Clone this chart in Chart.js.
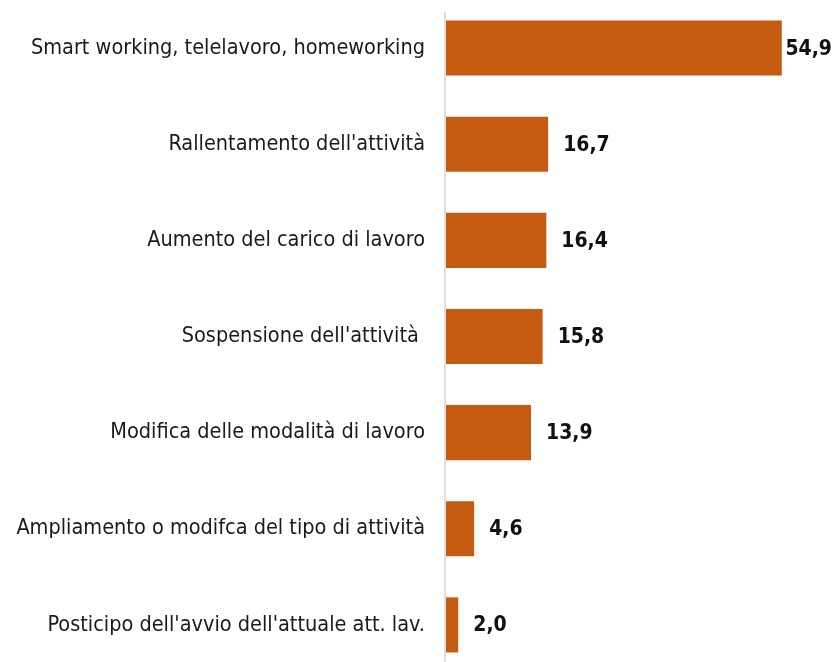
<!DOCTYPE html>
<html>
<head>
<meta charset="utf-8">
<script src="https://cdn.jsdelivr.net/npm/chart.js@4/dist/chart.umd.min.js"></script>
<style>
  html, body { margin: 0; padding: 0; background: #ffffff; overflow: hidden; }
  canvas { display: block; }
</style>
</head>
<body>
<canvas id="c" width="839" height="673"></canvas>
<script>
const categories = [
  "Smart working, telelavoro, homeworking",
  "Rallentamento dell'attività",
  "Aumento del carico di lavoro",
  "Sospensione dell'attività ",
  "Modifica delle modalità di lavoro",
  "Ampliamento o modifca del tipo di attività",
  "Posticipo dell'avvio dell'attuale att. lav."
];
const values = [54.9, 16.7, 16.4, 15.8, 13.9, 4.6, 2.0];

const LABEL_FONT = "'DejaVu Sans Condensed', 'DejaVu Sans', sans-serif";

const axisLinePlugin = {
  id: 'axisLine',
  beforeDatasetsDraw(chart) {
    const x = chart.scales.x.getPixelForValue(0);
    const ctx = chart.ctx;
    ctx.save();
    ctx.strokeStyle = '#d4d4d4';
    ctx.lineWidth = 1.5;
    ctx.beginPath();
    ctx.moveTo(x - 1, 12);
    ctx.lineTo(x - 1, chart.height);
    ctx.stroke();
    ctx.restore();
  }
};

const valueLabelPlugin = {
  id: 'valueLabels',
  afterDatasetsDraw(chart) {
    const ctx = chart.ctx;
    const meta = chart.getDatasetMeta(0);
    ctx.save();
    ctx.font = "bold 21px " + LABEL_FONT;
    ctx.fillStyle = '#111111';
    ctx.textBaseline = 'middle';
    ctx.textAlign = 'left';
    meta.data.forEach((bar, i) => {
      const txt = values[i].toFixed(1).replace('.', ',');
      const w = ctx.measureText(txt).width;
      let x = bar.x + 15;
      if (x + w > 832) x = 832 - w;
      ctx.fillText(txt, x, bar.y + 1);
    });
    ctx.restore();
  }
};

new Chart(document.getElementById('c'), {
  type: 'bar',
  data: {
    labels: categories,
    datasets: [{
      data: values,
      backgroundColor: '#C55A11',
      borderWidth: 0,
      barPercentage: 0.573,
      categoryPercentage: 1.0
    }]
  },
  options: {
    indexAxis: 'y',
    responsive: false,
    animation: false,
    layout: { padding: { top: 0, right: 26, bottom: 0, left: 0 } },
    plugins: {
      legend: { display: false },
      tooltip: { enabled: false }
    },
    scales: {
      x: {
        display: false,
        min: 0,
        max: 60
      },
      y: {
        grid: { display: false, drawTicks: false },
        border: { display: false },
        ticks: {
          color: '#1a1a1a',
          padding: 21,
          font: { family: LABEL_FONT, size: 21.5 }
        },
        afterFit(scale) {
          scale.width = 446;
          scale.paddingTop = 0;
          scale.paddingBottom = 0;
        }
      }
    }
  },
  plugins: [axisLinePlugin, valueLabelPlugin]
});
</script>
</body>
</html>
